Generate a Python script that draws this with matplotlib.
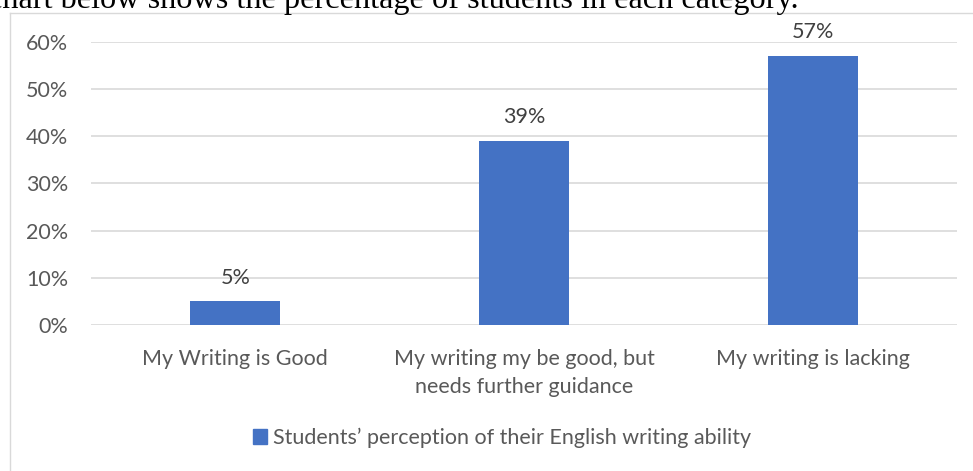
import matplotlib.pyplot as plt
from matplotlib.lines import Line2D
from matplotlib.patches import Rectangle

# data
categories = ["My Writing is Good",
              "My writing my be good, but\nneeds further guidance",
              "My writing is lacking"]
values = [5, 39, 57]
series_name = "Students\u2019 perception of their English writing ability"

W, H = 973, 471
grey = "#595959"
blue = "#4472C4"
fs = 15.5
plt.rcParams['font.family'] = ['Lato', 'DejaVu Sans']

fig = plt.figure(figsize=(W / 100, H / 100), dpi=100)

# cut-off line of text from the document above the chart
fig.text(-12 / W, 1 - 8 / H, "chart below shows the percentage of students in each category.",
         family='Liberation Serif', fontsize=23.2, color='black', va='baseline', ha='left')

# chart frame (left and top edges visible)
fig.add_artist(Line2D([9.5 / W, 9.5 / W], [0, 1 - 12.5 / H], transform=fig.transFigure,
                      color='#d9d9d9', lw=1))
fig.add_artist(Line2D([9.5 / W, 1], [1 - 12.5 / H, 1 - 12.5 / H], transform=fig.transFigure,
                      color='#d9d9d9', lw=1))

ax = fig.add_axes([91 / W, 146 / H, (957 - 91) / W, (325 - 41.7) / H])
x = range(len(categories))
bars = ax.bar(x, values, width=0.312, color=blue, zorder=3)
ax.set_ylim(0, 60)
ax.set_xlim(-0.5, 2.5)
ax.set_yticks(range(0, 61, 10))
ax.set_yticklabels([f"{v}%" for v in range(0, 61, 10)])
ax.set_xticks(list(x))
ax.set_xticklabels(categories, linespacing=1.5)
ax.tick_params(axis='both', length=0, colors=grey, labelsize=fs)
ax.tick_params(axis='y', pad=16.5)
ax.tick_params(axis='x', pad=17)
for lab in ax.get_xticklabels():
    lab.set_verticalalignment('top')
ax.grid(axis='y', color='#d9d9d9', lw=1.2, zorder=0)
for s in ax.spines.values():
    s.set_visible(False)

for b, v in zip(bars, values):
    ax.annotate(f"{v}%", (b.get_x() + b.get_width() / 2, v), xytext=(0, 17),
                textcoords='offset points', ha='center', va='center',
                color='#404040', fontsize=fs)

handle = Rectangle((0, 0), 1, 1, color=blue)
fig.legend([handle], [series_name], loc='center', bbox_to_anchor=(502 / W, 1 - 438 / H),
           frameon=False, fontsize=fs, labelcolor=grey, handlelength=0.65, handleheight=0.65,
           handletextpad=0.25)

fig.savefig("out.png", dpi=100)
